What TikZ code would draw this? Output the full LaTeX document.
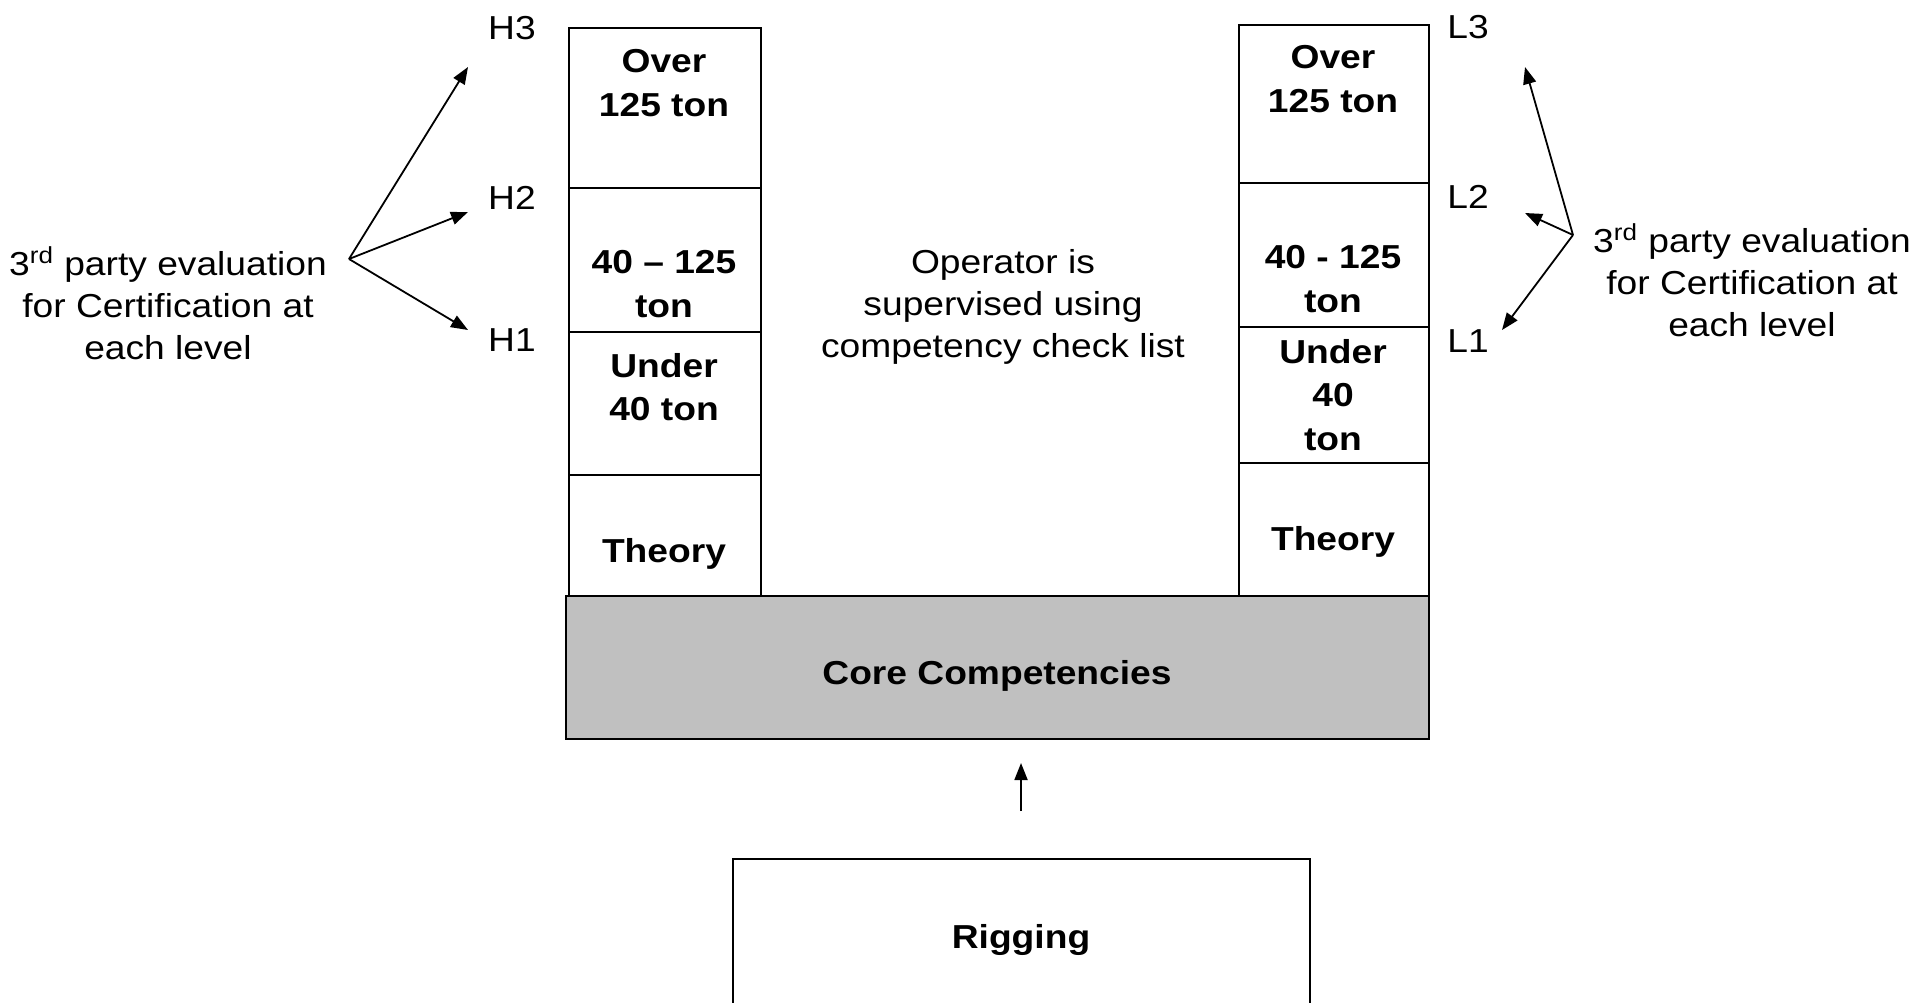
\documentclass[tikz,border=0pt]{standalone}
\usepackage{fontspec}
\setmainfont{Liberation Sans}[FakeStretch=1.12]
\usetikzlibrary{arrows.meta}
\definecolor{coreGray}{HTML}{C0C0C0}
\begin{document}
\begin{tikzpicture}[x=0.5pt,y=-0.5pt, line join=miter,
  cell/.style={draw=black, line width=1pt, inner sep=0pt, anchor=north west, fill=white},
  reg/.style={inner sep=0pt, align=center, font=\fontsize{16.6pt}{20.9pt}\selectfont},
  bld/.style={inner sep=0pt, align=center, font=\fontsize{16.6pt}{21.75pt}\selectfont\bfseries},
  arr/.style={line width=0.9pt, -{Triangle[length=8.5pt,width=6.5pt]}}]
\useasboundingbox (0,0) rectangle (1916,1002);
\clip (0,0) rectangle (1916,1002);
\fill[white] (0,0) rectangle (1916,1002);

% left column
\node[cell, minimum width=96pt, minimum height=80pt]   (h3) at (568,27)  {};
\node[cell, minimum width=96pt, minimum height=72pt]   (h2) at (568,187) {};
\node[cell, minimum width=96pt, minimum height=71.5pt] (h1) at (568,331) {};
\node[cell, minimum width=96pt, minimum height=60.5pt] (ht) at (568,474) {};
% right column
\node[cell, minimum width=95pt, minimum height=79pt]   (l3) at (1238,24)  {};
\node[cell, minimum width=95pt, minimum height=72pt]   (l2) at (1238,182) {};
\node[cell, minimum width=95pt, minimum height=68pt]   (l1) at (1238,326) {};
\node[cell, minimum width=95pt, minimum height=66.5pt] (lt) at (1238,462) {};
% core and rigging
\node[cell, fill=coreGray, minimum width=431.5pt, minimum height=71.5pt] (core) at (565,595) {};
\node[cell, minimum width=288.5pt, minimum height=90pt] (rig) at (732,858) {};

% cell texts
\node[bld] (th3) at (664,83)  {Over\\125 ton};
\node[bld] (th2) at (664,284) {40 \textendash{} 125\\ton};
\node[bld] (th1) at (664,387) {Under\\40 ton};
\node[bld] (tht) at (664,554) {Theory};
\node[bld] (tl3) at (1333,79)  {Over\\125 ton};
\node[bld] (tl2) at (1333,279) {40 - 125\\ton};
\node[bld] (tl1) at (1333,395) {Under\\40\\ton};
\node[bld] (tlt) at (1333,542) {Theory};
\node[bld] (tcore) at (997,676) {Core Competencies};
\node[bld] (trig) at (1021,940) {Rigging};

% level labels
\node[reg] (H3) at (512,28)  {H3};
\node[reg] (H2) at (512,198) {H2};
\node[reg] (H1) at (512,340) {H1};
\node[reg] (L3) at (1468,27)  {L3};
\node[reg] (L2) at (1468,197) {L2};
\node[reg] (L1) at (1468,341) {L1};

% free texts
\node[reg] (ltext) at (168,303) {3\textsuperscript{rd} party evaluation\\for Certification at\\each level};
\node[reg] (mtext) at (1003,307) {Operator is\\supervised using\\competency check list};
\node[reg] (rtext) at (1752,280) {3\textsuperscript{rd} party evaluation\\for Certification at\\each level};

% arrows
\coordinate (lo) at (349,259);
\coordinate (lh3) at (468,67);
\coordinate (lh2) at (468,212);
\coordinate (lh1) at (468,330);
\draw[arr] (lo) -- (lh3);
\draw[arr] (lo) -- (lh2);
\draw[arr] (lo) -- (lh1);
\coordinate (ro) at (1573,235);
\coordinate (rl3) at (1525,67);
\coordinate (rl2) at (1525,213);
\coordinate (rl1) at (1502,330);
\draw[arr] (ro) -- (rl3);
\draw[arr] (ro) -- (rl2);
\draw[arr] (ro) -- (rl1);
\coordinate (ba) at (1021,811);
\coordinate (bt) at (1021,763);
\draw[arr] (ba) -- (bt);
\end{tikzpicture}
\end{document}
